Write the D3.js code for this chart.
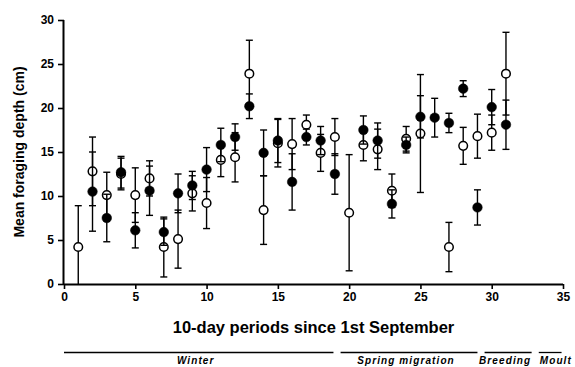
<!DOCTYPE html>
<html><head><meta charset="utf-8">
<script src="https://cdn.jsdelivr.net/npm/d3@7"></script>
<style>
html,body{margin:0;padding:0;background:#fff;}
svg{display:block;font-family:"Liberation Sans",Arial,sans-serif;}
</style></head>
<body><svg id="c" width="575" height="367"></svg>
<script>
const periods = [1,2,3,4,5,6,7,8,9,10,11,12,13,14,15,16,17,18,19,20,21,22,23,24,25,26,27,28,29,30,31];
const openMean = [4.2,12.8,10.1,12.5,10.1,12.0,4.2,5.1,10.3,9.2,14.1,14.4,23.9,8.4,16.0,15.9,18.1,14.9,16.7,8.1,15.8,15.3,10.6,16.5,17.1,null,4.2,15.7,16.8,17.2,23.9];
const openErr  = [4.7,3.9,2.6,1.8,3.1,2.0,3.4,3.3,2.0,2.9,1.9,2.8,3.8,3.9,2.7,2.9,1.1,2.1,2.1,6.6,1.8,2.3,1.9,1.4,6.7,null,2.8,2.1,2.5,2.0,4.7];
const filledMean = [null,10.5,7.5,12.7,6.1,10.6,5.9,10.3,11.2,13.0,15.8,16.7,20.2,14.9,16.3,11.6,16.7,16.3,12.5,null,17.5,16.3,9.1,15.8,19.0,18.9,18.3,22.2,8.7,20.1,18.1];
const filledErr  = [null,4.5,2.7,1.8,2.0,2.8,1.5,2.2,1.6,2.5,1.9,1.5,1.4,2.6,2.5,3.2,0.9,1.6,2.3,null,1.6,2.0,1.6,0.9,2.4,2.2,1.1,0.9,2.0,2.0,2.8];
const xTicks = [0,5,10,15,20,25,30,35];
const yTicks = [0,5,10,15,20,25,30];
const seasonNames = ["Winter","Spring migration","Breeding","Moult"];
const seasonStart = [0,19.4,29.5,33.3];
const seasonEnd   = [18.9,29.0,32.8,34.9];

const svg = d3.select("#c");
const x = d3.scaleLinear().domain([0,35]).range([64,563]);
const y = d3.scaleLinear().domain([0,30]).range([284,20]);

const xAxis = svg.append("g").attr("transform","translate(0,284)")
  .call(d3.axisBottom(x).tickValues(xTicks).tickSize(5).tickPadding(3).tickFormat(d3.format("d")));
const yAxis = svg.append("g").attr("transform","translate(64,0)")
  .call(d3.axisLeft(y).tickValues(yTicks).tickSize(6).tickPadding(4).tickFormat(d3.format("d")));
[xAxis,yAxis].forEach(g=>{
  g.select(".domain").attr("stroke","#000").attr("stroke-width",2);
  g.selectAll(".tick line").attr("stroke","#000").attr("stroke-width",1.6);
  g.selectAll(".tick text").attr("fill","#000").attr("font-size",12).attr("font-weight","bold")
   .attr("font-family","'Liberation Sans',Arial,sans-serif");
});
xAxis.select(".domain").attr("d", `M${x(0)},0.5H${x(35)}`);
yAxis.select(".domain").attr("d", `M-0.5,${y(0)}V${y(30)}`);

function series(means, errs){
  const data = periods.map((p,i)=>({p, m:means[i], e:errs[i]})).filter(d=>d.m!==null);
  const g = svg.append("g");
  const cw = 3.5;
  data.forEach(d=>{
    const lo = Math.max(0, d.m - d.e), hi = Math.min(30, d.m + d.e);
    const cx = x(d.p);
    g.append("line").attr("x1",cx).attr("x2",cx).attr("y1",y(lo)).attr("y2",y(hi))
      .attr("stroke","#000").attr("stroke-width",1.4);
    g.append("line").attr("x1",cx-cw).attr("x2",cx+cw).attr("y1",y(hi)).attr("y2",y(hi))
      .attr("stroke","#000").attr("stroke-width",1.4);
    if (lo>0) g.append("line").attr("x1",cx-cw).attr("x2",cx+cw).attr("y1",y(lo)).attr("y2",y(lo))
      .attr("stroke","#000").attr("stroke-width",1.4);
  });
  return {g, data};
}
const o = series(openMean, openErr);
const f = series(filledMean, filledErr);
o.g.selectAll("circle").data(o.data).join("circle")
  .attr("cx",d=>x(d.p)).attr("cy",d=>y(d.m)).attr("r",4.3)
  .attr("fill","#fff").attr("stroke","#000").attr("stroke-width",1.5);
f.g.selectAll("circle").data(f.data).join("circle")
  .attr("cx",d=>x(d.p)).attr("cy",d=>y(d.m)).attr("r",4.8)
  .attr("fill","#000").attr("stroke","#000").attr("stroke-width",0.5);

svg.append("text").attr("x",(x(0)+x(35))/2).attr("y",333).attr("text-anchor","middle")
  .attr("font-size",16.5).attr("font-weight","bold").text("10-day periods since 1st September");
svg.append("text").attr("transform",`translate(24,${(y(0)+y(30))/2}) rotate(-90)`)
  .attr("text-anchor","middle").attr("font-size",14).attr("font-weight","bold")
  .text("Mean foraging depth (cm)");

const sg = svg.append("g");
seasonNames.forEach((n,i)=>{
  const x0 = x(seasonStart[i]), x1 = x(seasonEnd[i]);
  sg.append("line").attr("x1",x0).attr("x2",x1).attr("y1",352.5).attr("y2",352.5)
    .attr("stroke","#000").attr("stroke-width",1.3);
  const last = i === seasonNames.length-1;
  sg.append("text").attr("x", last ? x0+1 : (x0+x1)/2 - 3).attr("y",364)
    .attr("text-anchor", last ? "start" : "middle")
    .attr("font-size",10).attr("font-weight","bold").attr("font-style","italic")
    .attr("letter-spacing",1.1).text(n);
});
</script></body></html>
